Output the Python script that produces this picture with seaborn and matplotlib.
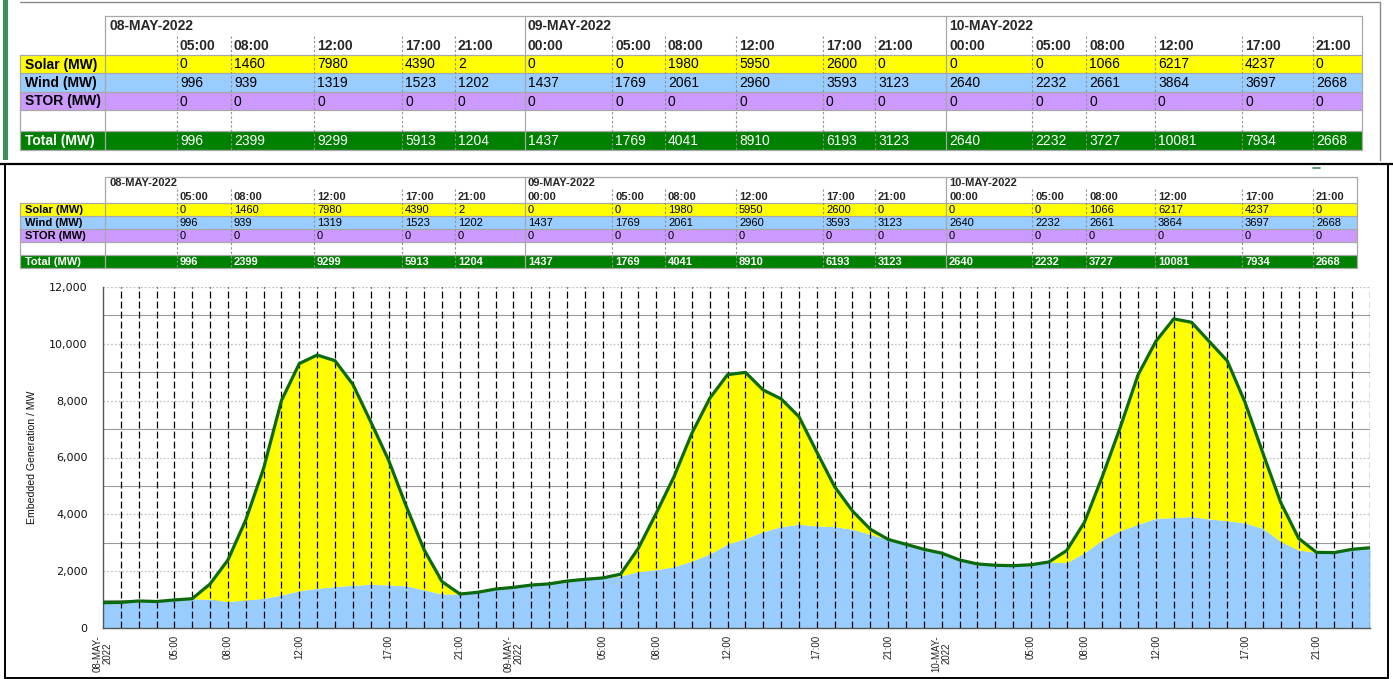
import matplotlib
matplotlib.use("Agg")
import matplotlib.pyplot as plt
from matplotlib.patches import Rectangle
from matplotlib.ticker import MultipleLocator, FuncFormatter
import numpy as np
import seaborn as sns

# ---------------- DATA (hourly, 08-MAY 01:00 -> 11-MAY 00:00) ----------------
wind = [900, 910, 960, 940, 996, 1040, 1020, 939, 995, 1055,
        1170, 1319, 1405, 1465, 1510, 1545, 1523, 1490, 1350, 1205,
        1202, 1265, 1380, 1437, 1520, 1560, 1660, 1720, 1769, 1840,
        1990, 2061, 2165, 2365, 2610, 2960, 3160, 3395, 3570, 3655,
        3593, 3570, 3480, 3300, 3123, 2950, 2775, 2640, 2400, 2260,
        2215, 2200, 2232, 2330, 2305, 2661, 3105, 3430, 3655, 3864,
        3890, 3925, 3840, 3780, 3697, 3510, 3045, 2750, 2668, 2660,
        2775, 2830]
solar = [0, 0, 0, 0, 0, 0, 537, 1460, 2810, 4565,
         6830, 7980, 8195, 7935, 7060, 5715, 4390, 2785, 1400, 435,
         2, 0, 0, 0, 0, 0, 0, 0, 0, 60,
         820, 1980, 3165, 4485, 5470, 5950, 5830, 4975, 4490, 3780,
         2600, 1405, 640, 180, 0, 0, 0, 0, 0, 0,
         0, 0, 0, 0, 425, 1066, 2225, 3620, 5245, 6217,
         6980, 6825, 6230, 5615, 4237, 2640, 1370, 410, 0, 0,
         0, 0]

tick_idx = [0, 4, 7, 11, 16, 20, 23, 28, 31, 35, 40, 44, 47, 52, 55, 59, 64, 68]
tick_labels = ["08-MAY-\n2022", "05:00", "08:00", "12:00", "17:00", "21:00",
               "09-MAY-\n2022", "05:00", "08:00", "12:00", "17:00", "21:00",
               "10-MAY-\n2022", "05:00", "08:00", "12:00", "17:00", "21:00"]
table_dates = ["08-MAY-2022", "09-MAY-2022", "10-MAY-2022"]
table_times = ["05:00", "08:00", "12:00", "17:00", "21:00",
               "00:00", "05:00", "08:00", "12:00", "17:00", "21:00",
               "00:00", "05:00", "08:00", "12:00", "17:00", "21:00"]
stor_tab = [0, 0, 0, 0, 0, 0, 0, 0, 0, 0, 0, 0, 0, 0, 0, 0, 0]

hours = np.arange(len(wind))
total = np.array(wind) + np.array(solar)
solar_tab = [solar[i] for i in tick_idx[1:]]
wind_tab = [wind[i] for i in tick_idx[1:]]
total_tab = [s + w + t for s, w, t in zip(solar_tab, wind_tab, stor_tab)]

# ---------------- STYLE ----------------
sns.set_style("white")
plt.rcParams['font.family'] = ['Liberation Sans', 'DejaVu Sans']

W, H = 1393, 679
fig = plt.figure(figsize=(W / 100, H / 100), dpi=100)

# page overlay in pixel coords
bg = fig.add_axes([0, 0, 1, 1])
bg.set_xlim(0, W)
bg.set_ylim(H, 0)
bg.axis('off')

# page frame
bg.plot([20, 1380], [2, 2], color='#8a8a8a', lw=1)
bg.plot([1380, 1380], [2, 160], color='#8a8a8a', lw=1)
bg.add_patch(Rectangle((3, 0), 5, 160, fc='#3a8f5a', ec='none'))
bg.plot([0, W], [164, 164], color='black', lw=1.6)
bg.plot([5, 5], [164, 678], color='black', lw=1.4)
bg.plot([5, 1388], [677.5, 677.5], color='black', lw=1.4)
bg.plot([1388, 1388], [164, 678], color='black', lw=1.4)
bg.plot([1313, 1320], [168, 168], color='#3a8f5a', lw=1.2)

col_x = [177, 231, 314, 402, 455, 525, 612, 665, 736, 823, 875, 946,
         1032, 1086, 1155, 1242, 1313]
day_cols = [5, 11]
LAB_L, HDR_L = 20, 105


def draw_table(ys, right, fs, total_bold):
    top, d_b, t_b, s_b, w_b, st_b, bl_b, to_b = ys
    rows = [("Solar (MW)", "#FFFF00", solar_tab, t_b, s_b, "black"),
            ("Wind (MW)", "#99CCFF", wind_tab, s_b, w_b, "black"),
            ("STOR (MW)", "#CC99FF", stor_tab, w_b, st_b, "black"),
            ("Total (MW)", "#008000", total_tab, bl_b, to_b, "white")]
    for name, c, vals, y0, y1, tc in rows:
        bg.add_patch(Rectangle((LAB_L, y0), right - LAB_L, y1 - y0, fc=c, ec='none'))
        ym = (y0 + y1) / 2 + 0.5
        bg.text(LAB_L + 5, ym, name, color=tc, fontweight='bold', fontsize=fs,
                va='center', ha='left')
        wt = 'bold' if (total_bold and tc == 'white') else 'normal'
        for cx, v in zip(col_x, vals):
            bg.text(cx + 3, ym, str(v), color=tc, fontsize=fs,
                    fontweight=wt, va='center', ha='left')
    # header texts
    dm = (top + d_b) / 2 + 0.5
    tm = (d_b + t_b) / 2 + 0.5
    bg.text(HDR_L + 5, dm, table_dates[0], fontweight='bold', fontsize=fs,
            va='center')
    for d, ci in zip(table_dates[1:], day_cols):
        bg.text(col_x[ci] + 3, dm, d, fontweight='bold', fontsize=fs,
                va='center')
    for cx, t in zip(col_x, table_times):
        bg.text(cx + 3, tm, t, fontweight='bold', fontsize=fs, va='center')
    # grid lines
    lc = '#a8a8a8'
    bg.plot([HDR_L, right], [top, top], color=lc, lw=0.9)
    for yy in (t_b, s_b, w_b, st_b, bl_b, to_b):
        bg.plot([LAB_L, right], [yy, yy], color=lc, lw=0.9)
    bg.plot([LAB_L, LAB_L], [t_b, to_b], color=lc, lw=0.9)
    bg.plot([HDR_L, HDR_L], [top, to_b], color=lc, lw=0.9)
    bg.plot([right, right], [top, to_b], color=lc, lw=0.9)
    for j, cx in enumerate(col_x):
        if j in day_cols:
            bg.plot([cx, cx], [top, to_b], color=lc, lw=0.9)
        else:
            bg.plot([cx, cx], [d_b, to_b], color='#909090', lw=0.8,
                    ls=(0, (2, 2)))


draw_table([16, 36, 55, 73, 92, 110, 131, 150], 1362, 10, False)
draw_table([177, 189, 203, 216, 229, 242, 255, 268], 1357, 8, True)

# ---------------- CHART ----------------
x0, x1, ytop, ybot = 103, 1370, 286.7, 628.3
ax = fig.add_axes([x0 / W, 1 - ybot / H, (x1 - x0) / W, (ybot - ytop) / H])
ax.set_facecolor('white')

ax.fill_between(hours, 0, wind, color='#99CCFF', lw=0, zorder=1)
ax.fill_between(hours, wind, total, color='#FFFF00', lw=0, zorder=1)
ax.vlines(hours[1:], 0, 12000, colors='black', linestyles=(0, (5.5, 2.5)),
          lw=0.9, zorder=2)
sns.lineplot(x=hours, y=total, color='#0b6b0b', lw=2.3, ax=ax, zorder=3,
             legend=False)

ax.set_xlim(0, len(wind) - 1)
ax.set_ylim(0, 12000)
ax.set_axisbelow(True)
ax.yaxis.set_major_locator(MultipleLocator(2000))
ax.yaxis.set_minor_locator(MultipleLocator(1000))
ax.yaxis.set_major_formatter(FuncFormatter(lambda v, p: f"{int(v):,}"))
ax.grid(which='major', axis='y', color='#c4c4c4', ls=(0, (1.5, 1.5)), lw=0.9)
ax.grid(which='minor', axis='y', color='#9a9a9a', ls='-', lw=0.8)
ax.grid(which='both', axis='x', visible=False)

ax.set_xticks(tick_idx)
ax.set_xticklabels(tick_labels, rotation=90, fontsize=7, linespacing=1.0)
ax.tick_params(axis='x', length=0, pad=5, colors='#222222')
ax.tick_params(axis='y', which='major', length=3, pad=8, labelsize=8,
               colors='#333333', labelcolor='#111111')
ax.tick_params(axis='y', which='minor', length=0)
for lab in ax.get_yticklabels():
    lab.set_family('DejaVu Sans')

ax.set_ylabel("Embedded Generation / MW", fontsize=7.6, color='#111111')
ax.yaxis.set_label_coords(-0.052, 0.5)
ax.set_xlabel("")

for s in ('top', 'right'):
    ax.spines[s].set_visible(False)
for s in ('left', 'bottom'):
    ax.spines[s].set_color('#555555')
    ax.spines[s].set_linewidth(1.0)

fig.savefig("out.png", dpi=100)
